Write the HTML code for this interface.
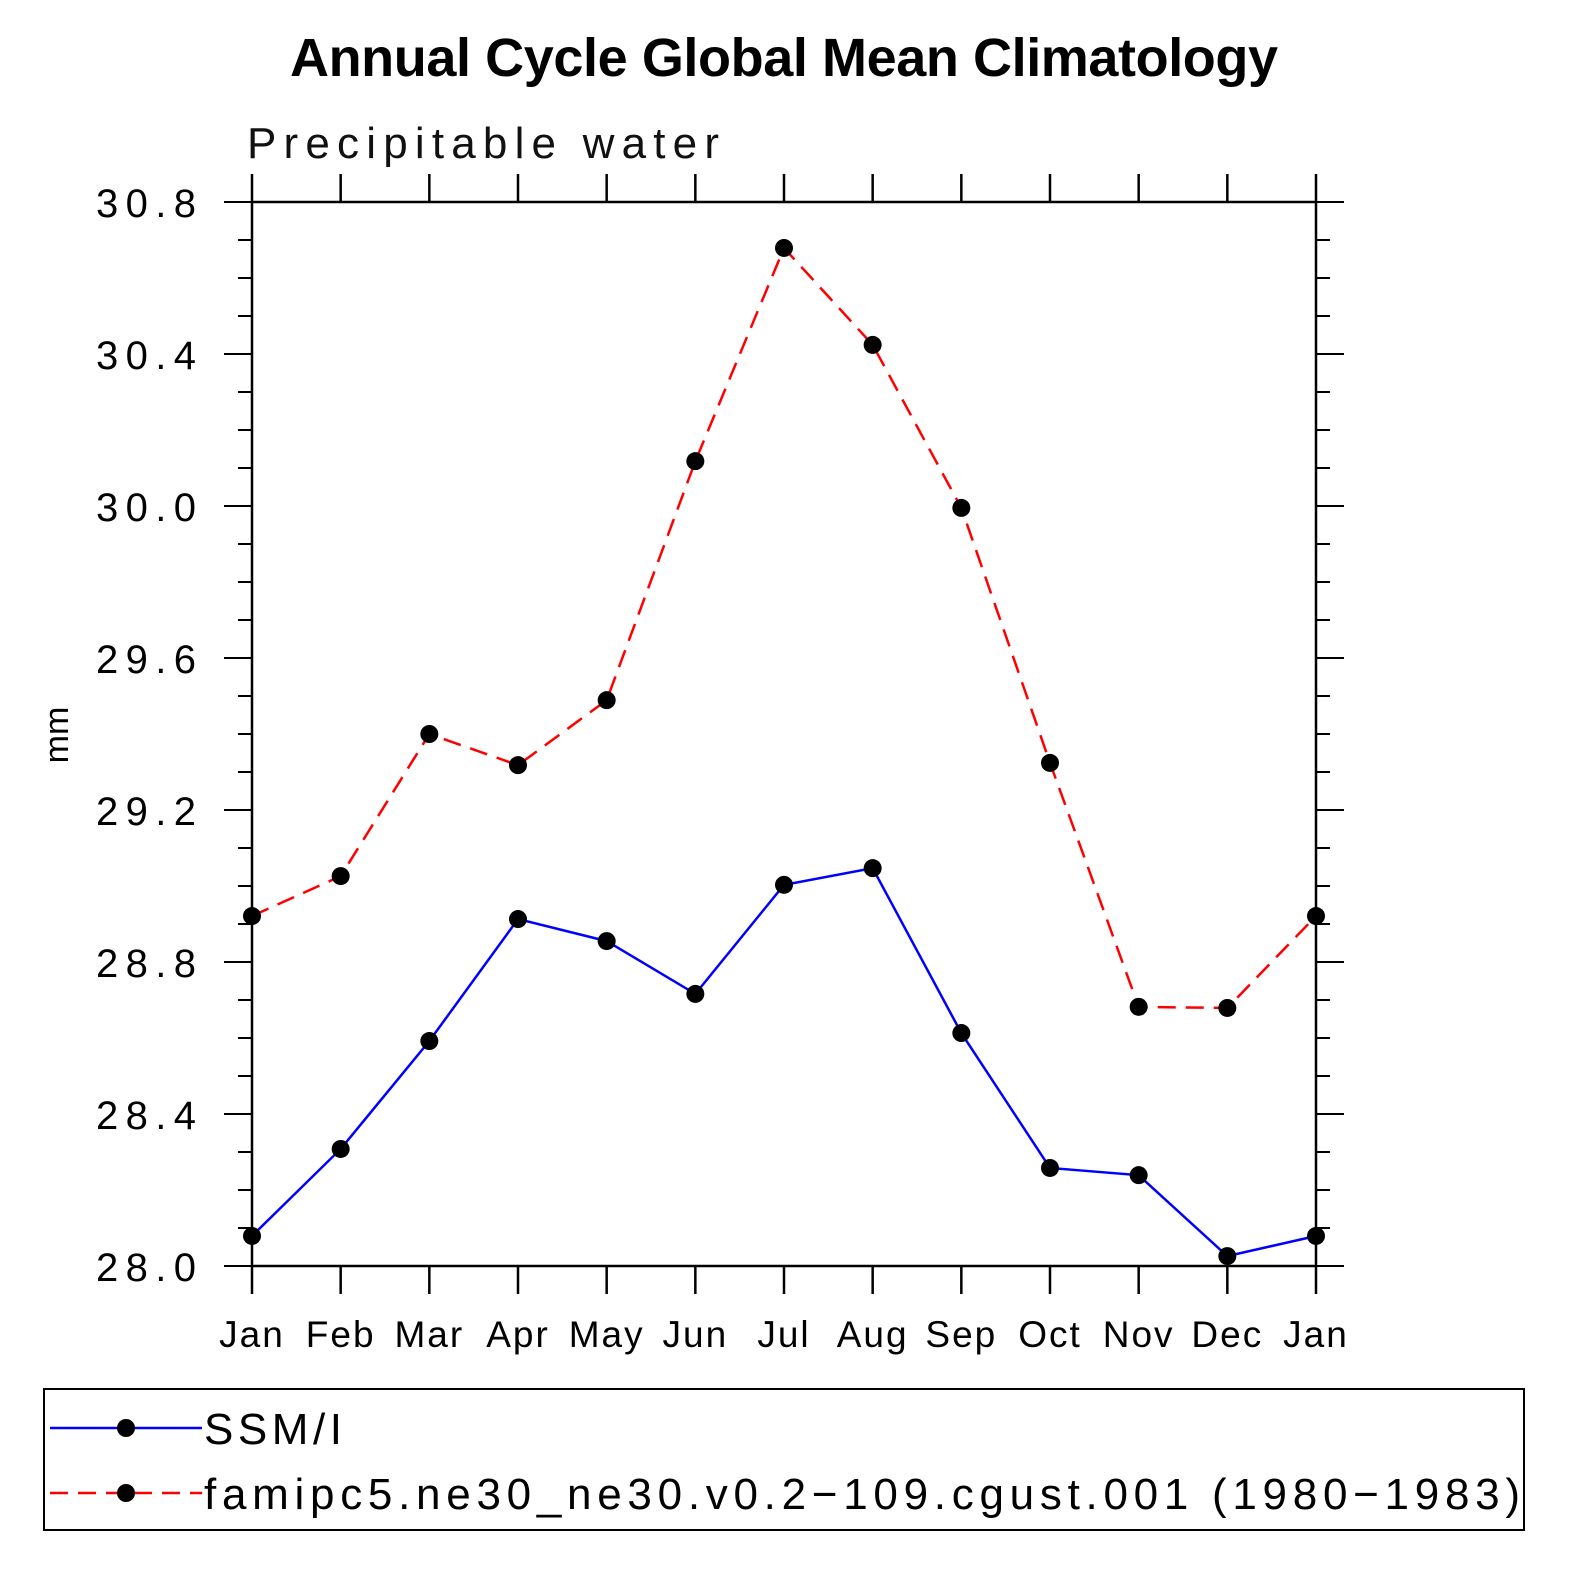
<!DOCTYPE html>
<html><head><meta charset="utf-8"><style>
html,body{margin:0;padding:0;background:#fff;overflow:hidden;width:1585px;height:1585px}
svg{display:block}
svg text{font-family:"Liberation Sans",sans-serif}
</style></head><body>
<svg id="c" width="1585" height="1585" xmlns="http://www.w3.org/2000/svg">
<text x="290" y="76" font-size="54" font-weight="bold" textLength="988">Annual Cycle Global Mean Climatology</text>
<text x="247" y="158" font-size="44" fill="#111" textLength="472">Precipitable water</text>
<text transform="translate(68,735) rotate(-90)" text-anchor="middle" font-size="34">mm</text>
<g id="axes"></g><g id="series"></g>
<g>
<rect x="44" y="1389" width="1480" height="141" fill="none" stroke="#000" stroke-width="2"/>
<g>
<line x1="50" y1="1428" x2="202" y2="1428" stroke="#00f" stroke-width="2.5"/><circle cx="126" cy="1428" r="9"/>
<text x="204" y="1444" font-size="44" textLength="138">SSM/I</text></g>
<g>
<line x1="50" y1="1493" x2="202" y2="1493" stroke="#f00" stroke-width="2.5" stroke-dasharray="18,10"/><circle cx="126" cy="1493" r="9"/>
<text x="204" y="1509" font-size="44" textLength="1316">famipc5.ne30_ne30.v0.2−109.cgust.001 (1980−1983)</text></g>
</g>
</svg>
<script>
const months=["Jan","Feb","Mar","Apr","May","Jun","Jul","Aug","Sep","Oct","Nov","Dec","Jan"];
const ssmi=[28.079,28.308,28.592,28.913,28.855,28.716,29.003,29.047,28.613,28.258,28.239,28.026,28.079];
const model=[28.921,29.026,29.40,29.318,29.489,30.118,30.679,30.424,29.995,29.324,28.682,28.679,28.921];
const yTicks=["28.0","28.4","28.8","29.2","29.6","30.0","30.4","30.8"];
const NS="http://www.w3.org/2000/svg";
const X0=252,X1=1316,Y0=1266,Y1=202,ymin=28,ymax=30.8;
const xs=i=>X0+(X1-X0)*i/12, ys=v=>Y0-(v-ymin)/(ymax-ymin)*(Y0-Y1);
function el(p,t,a){const e=document.createElementNS(NS,t);for(const k in a)e.setAttribute(k,a[k]);p.appendChild(e);return e;}
const ax=document.getElementById('axes');
const fr=el(ax,'rect',{x:X0,y:Y1,width:X1-X0,height:Y0-Y1,fill:'none',stroke:'#000','stroke-width':2.5});


months.forEach((m,i)=>{const x=xs(i);
el(ax,'line',{x1:x,y1:Y0,x2:x,y2:Y0+28,stroke:'#000','stroke-width':2.5});
el(ax,'line',{x1:x,y1:Y1,x2:x,y2:Y1-28,stroke:'#000','stroke-width':2.5});
const t=el(ax,'text',{x:x,y:Y0+81,'text-anchor':'middle','font-size':37,'letter-spacing':2});t.textContent=m;

});
for(let v=ymin;v<=ymax+1e-6;v+=0.1){const y=ys(v);const maj=Math.round(v*10)%4===0;const L=maj?28:14;
el(ax,'line',{x1:X0-L,y1:y,x2:X0,y2:y,stroke:'#000','stroke-width':2});
el(ax,'line',{x1:X1,y1:y,x2:X1+L,y2:y,stroke:'#000','stroke-width':2});}
yTicks.forEach(s=>{const y=ys(parseFloat(s));const t=el(ax,'text',{x:96,y:y+15,'font-size':40,textLength:100});t.textContent=s;

});
const sg=document.getElementById('series');
function draw(d,col,dash,name){
const p=el(sg,'polyline',{points:d.map((v,i)=>xs(i)+','+ys(v)).join(' '),fill:'none',stroke:col,'stroke-width':2.5,'stroke-dasharray':dash});


d.forEach((v,i)=>{const c=el(sg,'circle',{cx:xs(i),cy:ys(v),r:9,fill:'#000'});

});}
draw(model,'#f00','18,10','model');
draw(ssmi,'#00f','none','ssmi');
</script>
</body></html>
